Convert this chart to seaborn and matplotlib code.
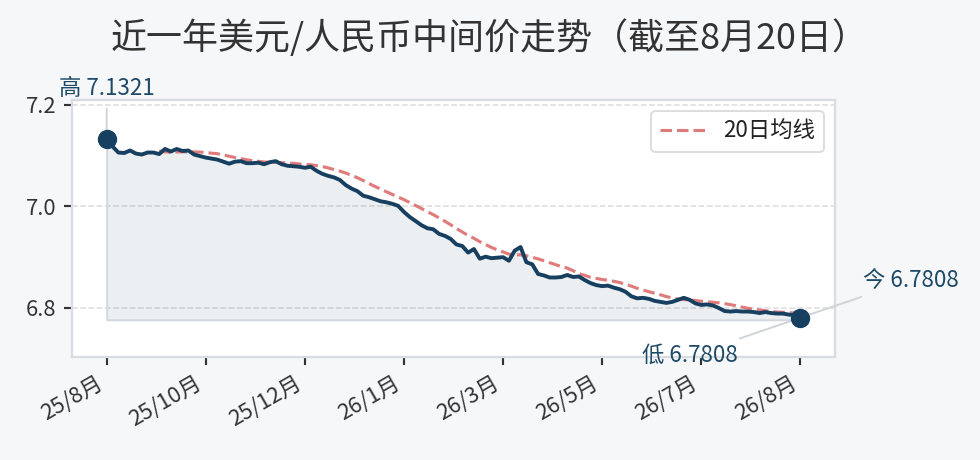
import numpy as np
import pandas as pd
import seaborn as sns
import matplotlib.pyplot as plt
from matplotlib.colors import to_rgba
from matplotlib.ticker import FormatStrFormatter

# 美元/人民币中间价, 2025/8/20 - 2026/8/20, 大约每两个交易日一个点
rates = [
    7.1321, 7.118, 7.106, 7.105, 7.110, 7.104, 7.102, 7.106, 7.106, 7.103,
    7.113, 7.108, 7.113, 7.109, 7.110, 7.102, 7.099, 7.096, 7.094, 7.092,
    7.088, 7.084, 7.088, 7.089, 7.085, 7.085, 7.086, 7.083, 7.087, 7.089,
    7.083, 7.080, 7.079, 7.078, 7.076, 7.078, 7.070, 7.064, 7.060, 7.057,
    7.052, 7.042, 7.035, 7.030, 7.021, 7.018, 7.014, 7.010, 7.008, 7.005,
    7.001, 6.989, 6.979, 6.971, 6.963, 6.957, 6.955, 6.946, 6.942, 6.936,
    6.925, 6.922, 6.909, 6.916, 6.897, 6.901, 6.898, 6.899, 6.900, 6.893,
    6.913, 6.920, 6.890, 6.886, 6.867, 6.864, 6.860, 6.860, 6.861, 6.865,
    6.861, 6.862, 6.855, 6.849, 6.845, 6.843, 6.844, 6.840, 6.837, 6.832,
    6.823, 6.819, 6.820, 6.818, 6.814, 6.812, 6.810, 6.812, 6.816, 6.820,
    6.816, 6.809, 6.806, 6.807, 6.805, 6.800, 6.794, 6.793, 6.794, 6.793,
    6.793, 6.792, 6.790, 6.792, 6.790, 6.789, 6.789, 6.787, 6.786, 6.7808,
]
tick_labels = ["25/8月", "25/10月", "25/12月", "26/1月",
               "26/3月", "26/5月", "26/7月", "26/8月"]
ma_window = 10  # 10个点 ~ 20个交易日
title = "近一年美元/人民币中间价走势（截至8月20日）"

sns.set_theme(style="white")
plt.rcParams['font.family'] = ['Noto Sans CJK SC', 'DejaVu Sans']
plt.rcParams['axes.unicode_minus'] = False

navy = "#173f5f"
text_navy = "#1e4a68"
salmon = "#e07b7b"

df = pd.DataFrame({"idx": np.arange(len(rates)), "rate": rates})
df["ma"] = df["rate"].rolling(ma_window).mean()
n = len(df)
lo, hi = df["rate"].min(), df["rate"].max()
i_lo, i_hi = int(df["rate"].idxmin()), int(df["rate"].idxmax())
pad = (hi - lo) * 0.22

fig = plt.figure(figsize=(7, 3.2858), dpi=140, facecolor="#f6f7f9")
ax = fig.add_axes([0.0735, 0.2239, 0.7786, 0.5587])
ax.set_facecolor("white")

ax.fill_between(df["idx"], df["rate"], lo - 0.004,
                facecolor=to_rgba(navy, 0.08), edgecolor="#d3d8de", lw=1, zorder=1)
sns.lineplot(data=df, x="idx", y="rate", color=navy, lw=2.0, ax=ax, zorder=3)
sns.lineplot(data=df, x="idx", y="ma", color=salmon, lw=1.6, ls="--",
             label="20日均线", ax=ax, zorder=2)
ax.scatter([0, n - 1], [rates[0], rates[-1]], s=80, color=navy, zorder=5)

line_kw = dict(arrowstyle="-", color="#cfd4da", lw=1)
ax.annotate(f"高 {hi:.4f}", xy=(i_hi, hi), xytext=(0, 26), textcoords="offset points",
            ha="center", va="center", fontsize=11.5, color=text_navy,
            arrowprops=line_kw, annotation_clip=False)
ax.annotate(f"今 {rates[-1]:.4f}", xy=(n - 1, rates[-1]), xytext=(57, 19.5),
            textcoords="offset points", ha="center", va="center", fontsize=11.5,
            color=text_navy, arrowprops=line_kw, annotation_clip=False)
ax.annotate(f"低 {lo:.4f}", xy=(i_lo, lo), xytext=(-57, -19.5),
            textcoords="offset points", ha="center", va="center", fontsize=11.5,
            color=text_navy, arrowprops=line_kw, annotation_clip=False)

ax.set_xlim(-0.05 * (n - 1), 1.05 * (n - 1))
ax.set_ylim(lo - pad, hi + pad)
ax.set_xticks(np.linspace(0, n - 1, len(tick_labels)))
ax.set_xticklabels(tick_labels, rotation=30, ha="right")
ax.set_yticks([6.8, 7.0, 7.2])
ax.yaxis.set_major_formatter(FormatStrFormatter("%.1f"))
ax.set_xlabel("")
ax.set_ylabel("")

ax.grid(axis="y", ls="--", color="#dddddd", lw=0.8)
ax.grid(axis="x", visible=False)
for s in ax.spines.values():
    s.set_color("#d9dde2")
    s.set_linewidth(1.2)
ax.tick_params(axis="both", bottom=True, left=True, length=4, width=1.1,
               color="#333333", labelsize=11.3, labelcolor="#333333", pad=4)

leg = ax.legend(loc="upper right", fontsize=11.5, frameon=True, fancybox=True,
                edgecolor="#dddddd", framealpha=1)
for t in leg.get_texts():
    t.set_color("#222222")

fig.suptitle(title, fontsize=18.5, color="#333333", x=0.5, y=0.918, va="center")

fig.savefig("out.png", dpi=140, facecolor=fig.get_facecolor())
